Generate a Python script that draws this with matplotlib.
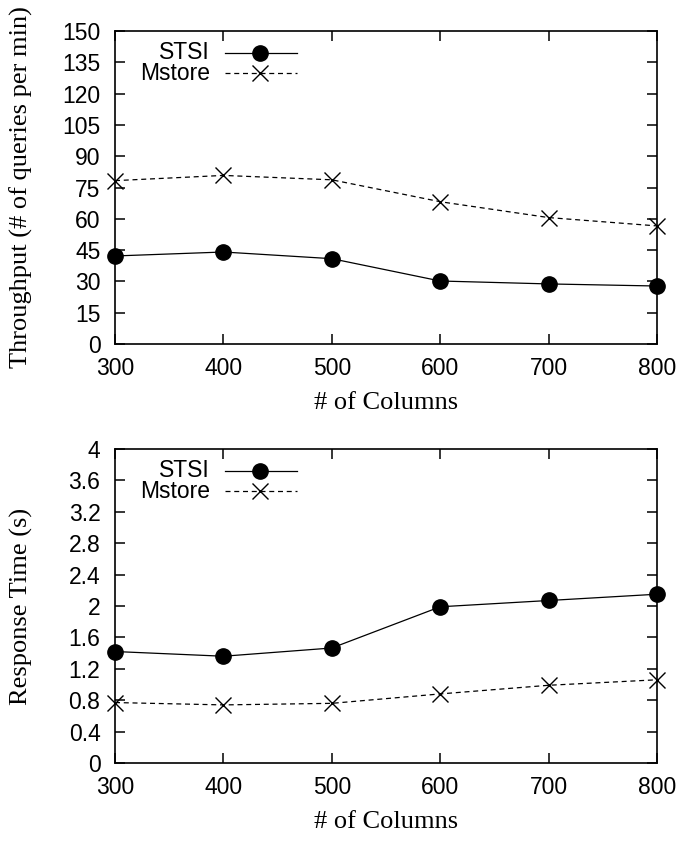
import matplotlib
matplotlib.use("Agg")
import matplotlib.pyplot as plt
from matplotlib.lines import Line2D

columns = [300, 400, 500, 600, 700, 800]
thr_stsi = [42.2, 44.1, 40.9, 30.2, 28.8, 27.8]
thr_mstore = [78.3, 80.8, 78.7, 68.2, 60.6, 56.6]
rt_stsi = [1.42, 1.36, 1.465, 1.99, 2.07, 2.15]
rt_mstore = [0.77, 0.74, 0.76, 0.88, 0.99, 1.06]
series_names = ["STSI", "Mstore"]
thr_ticks = [0, 15, 30, 45, 60, 75, 90, 105, 120, 135, 150]
rt_ticks = [0, 0.4, 0.8, 1.2, 1.6, 2, 2.4, 2.8, 3.2, 3.6, 4]
rt_ticklabels = ["0", "0.4", "0.8", "1.2", "1.6", "2", "2.4", "2.8", "3.2", "3.6", "4"]

fig = plt.figure(figsize=(6.83, 8.43), dpi=100)

SANS = "Liberation Sans"
SERIF = "Liberation Serif"
TICK_SIZE = 16.5
LABEL_SIZE = 19
DASH = (0, (4, 3))

def style(ax, yticks, ylim, ylabel, yticklabels=None):
    ax.set_xlim(300, 800)
    ax.set_ylim(*ylim)
    ax.set_xticks(columns)
    ax.set_yticks(yticks)
    if yticklabels is not None:
        ax.set_yticklabels(yticklabels)
    ax.tick_params(direction="in", length=7, width=1.1, top=True, right=True,
                   labelsize=TICK_SIZE)
    ax.tick_params(axis="x", pad=9.5)
    ax.tick_params(axis="y", pad=10.5)
    for lab in ax.get_xticklabels() + ax.get_yticklabels():
        lab.set_fontfamily(SANS)
    for s in ax.spines.values():
        s.set_linewidth(1.2)
    ax.set_xlabel("# of Columns", family=SERIF, size=LABEL_SIZE)
    ax.set_ylabel(ylabel, family=SERIF, size=LABEL_SIZE)
    ax.xaxis.set_label_coords(0.5, -0.153)
    ax.yaxis.set_label_coords(-0.151, 0.5)

def legend(ax):
    ys = [0.930, 0.866]
    styles = [dict(ls="-", marker="o", ms=11, mfc="black", mec="black"),
              dict(ls=DASH, marker="x", ms=11, mew=1.0, mec="black")]
    # both key labels in one right-aligned text block
    ax.text(0.175, (ys[0] + ys[1]) / 2, "\n".join(series_names),
            transform=ax.transAxes, ha="right", va="center",
            multialignment="right", linespacing=0.93,
            family=SANS, size=TICK_SIZE)
    for y, st in zip(ys, styles):
        ax.add_line(Line2D([0.203, 0.336], [y, y], transform=ax.transAxes,
                           color="black", lw=0.9, ls=st["ls"]))
        mk = {k: v for k, v in st.items() if k != "ls"}
        ax.add_line(Line2D([0.268], [y], transform=ax.transAxes, color="black",
                           lw=0, **mk))

def draw(ax, stsi, mstore):
    ax.plot(columns, stsi, color="black", lw=0.9, marker="o", ms=11,
            clip_on=False, zorder=3)
    ax.plot(columns, mstore, color="black", lw=0.9, ls=DASH, marker="x",
            ms=11, mew=1.0, clip_on=False, zorder=3)

ax1 = fig.add_axes([0.1684, 0.5919, 0.7936, 0.3713])
draw(ax1, thr_stsi, thr_mstore)
style(ax1, thr_ticks, (0, 150), "Throughput (# of queries per min)")
legend(ax1)

ax2 = fig.add_axes([0.1684, 0.0949, 0.7936, 0.3725])
draw(ax2, rt_stsi, rt_mstore)
style(ax2, rt_ticks, (0, 4), "Response Time (s)", rt_ticklabels)
legend(ax2)

fig.savefig("out.png", dpi=100)
